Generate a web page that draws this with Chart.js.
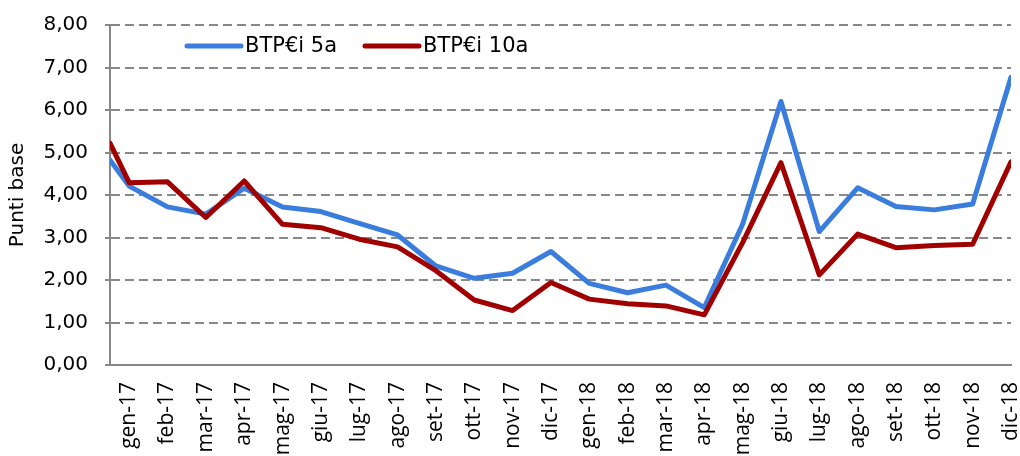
<!DOCTYPE html>
<html>
<head>
<meta charset="utf-8">
<script src="https://cdn.jsdelivr.net/npm/chart.js@4.4.0/dist/chart.umd.min.js"></script>
<style>
  body { margin: 0; background: #fff; }
  #chart { display: block; }
</style>
</head>
<body>
<canvas id="chart" width="1020" height="456"></canvas>
<script>
const months = ['gen-17', 'feb-17', 'mar-17', 'apr-17', 'mag-17', 'giu-17', 'lug-17', 'ago-17', 'set-17', 'ott-17', 'nov-17', 'dic-17',
    'gen-18', 'feb-18', 'mar-18', 'apr-18', 'mag-18', 'giu-18', 'lug-18', 'ago-18', 'set-18', 'ott-18', 'nov-18', 'dic-18']

// value where each line enters the plot, half a month before gen-17
const edge5 = 4.82
const edge10 = 5.22

const btp5 = [4.21, 3.72, 3.55, 4.16, 3.72, 3.61, 3.33, 3.06, 2.33, 2.04, 2.16, 2.67,
    1.92, 1.70, 1.88, 1.35, 3.31, 6.20, 3.14, 4.17, 3.73, 3.65, 3.79, 6.77]
const btp10 = [4.29, 4.31, 3.47, 4.33, 3.31, 3.23, 2.96, 2.78, 2.22, 1.53, 1.28, 1.94,
    1.55, 1.44, 1.39, 1.18, 2.88, 4.76, 2.12, 3.08, 2.76, 2.81, 2.84, 4.78]

const yTicks = [0, 1, 2, 3, 4, 5, 6, 7, 8]

function points(edge, values) {
    return [{ x: -0.5, y: edge }].concat(values.map((v, i) => ({ x: i, y: v })))
}

Chart.defaults.font.family = 'DejaVu Sans'
Chart.defaults.color = '#000'

const insideLegend = {
    id: 'insideLegend',
    afterDatasetsDraw(chart) {
        const ctx = chart.ctx
        ctx.save()
        ctx.font = '21px "DejaVu Sans"'
        ctx.textBaseline = 'middle'
        let x = 187
        const y = 46
        chart.data.datasets.forEach(ds => {
            ctx.strokeStyle = ds.borderColor
            ctx.lineWidth = 5
            ctx.lineCap = 'round'
            ctx.beginPath()
            ctx.moveTo(x, y)
            ctx.lineTo(x + 54, y)
            ctx.stroke()
            ctx.fillStyle = '#000'
            ctx.fillText(ds.label, x + 58, y + 1)
            x += 58 + ctx.measureText(ds.label).width + 28
        })
        ctx.restore()
    }
}

new Chart(document.querySelector('#chart'), {
    type: 'line',
    data: {
        datasets: [{
            label: 'BTP€i 5a',
            data: points(edge5, btp5),
            borderColor: '#3a7ddd',
            borderWidth: 5,
            order: 1
        }, {
            label: 'BTP€i 10a',
            data: points(edge10, btp10),
            borderColor: '#a00000',
            borderWidth: 5,
            order: 0
        }]
    },
    options: {
        responsive: false,
        animation: false,
        devicePixelRatio: 1,
        layout: { padding: { top: 25, right: 9, left: 0, bottom: 0 } },
        elements: {
            point: { radius: 0 },
            line: { tension: 0, borderJoinStyle: 'round', borderCapStyle: 'round' }
        },
        plugins: {
            legend: { display: false },
            tooltip: { enabled: false }
        },
        scales: {
            x: {
                type: 'linear',
                min: -0.5,
                max: months.length - 1,
                afterBuildTicks: s => { s.ticks = months.map((m, i) => ({ value: i })) },
                afterFit: s => { s.height = 91; s.paddingLeft = 0; s.paddingRight = 0 },
                grid: { display: false, drawTicks: false },
                border: { color: '#888', width: 2 },
                ticks: {
                    autoSkip: false,
                    minRotation: 90,
                    maxRotation: 90,
                    padding: 17,
                    font: { family: 'Open Sans', size: 21 },
                    callback: v => months[v]
                }
            },
            y: {
                min: 0,
                max: 8,
                afterBuildTicks: s => { s.ticks = yTicks.map(v => ({ value: v })) },
                afterFit: s => { s.width = 110; s.paddingTop = 0; s.paddingBottom = 0 },
                grid: {
                    color: c => c.tick && c.tick.value === 0 ? 'rgba(0,0,0,0)' : '#888',
                    lineWidth: 2,
                    tickLength: 5,
                    tickColor: '#888',
                    tickBorderDash: []
                },
                border: { color: '#888', width: 2, dash: [9, 5] },
                ticks: {
                    padding: 17,
                    font: { size: 20 },
                    callback: v => v.toFixed(2).replace('.', ',')
                },
                title: {
                    display: true,
                    text: 'Punti base',
                    font: { size: 20 },
                    padding: { top: 6, bottom: 4 }
                }
            }
        }
    },
    plugins: [insideLegend]
})
</script>
</body>
</html>
